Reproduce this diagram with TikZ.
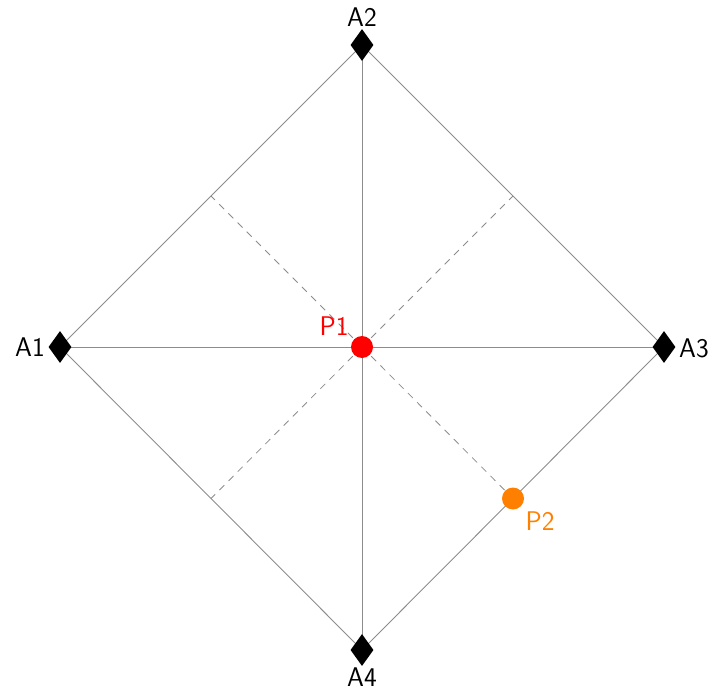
\documentclass[tikz,border=0pt]{standalone}
\usetikzlibrary{shapes.geometric,calc}
\tikzset{
  edge/.style={draw=black!45, line width=0.9pt},
  dashedge/.style={draw=black!45, line width=0.8pt, dash pattern=on 7pt off 6pt},
  vert/.style={diamond, fill=black, inner sep=0pt, minimum width=23pt, minimum height=32pt, aspect=0.72},
  pt/.style={circle, inner sep=0pt, minimum size=22pt},
  lbl/.style={font=\fontsize{27}{31}\selectfont\sffamily, inner sep=0pt}
}
\begin{document}
\begin{tikzpicture}[x=1pt,y=-1pt]
\useasboundingbox (0,0) rectangle (712,690);
\coordinate (a1) at (60,347);
\coordinate (a2) at (362,45);
\coordinate (a3) at (664,347);
\coordinate (a4) at (362,650);
\coordinate (c) at (362,347);
\coordinate (m12) at ($(a1)!0.5!(a2)$);
\coordinate (m23) at ($(a2)!0.5!(a3)$);
\coordinate (m34) at ($(a3)!0.5!(a4)$);
\coordinate (m41) at ($(a4)!0.5!(a1)$);
\draw[dashedge] (c) -- (m12);
\draw[dashedge] (c) -- (m23);
\draw[dashedge] (c) -- (m34);
\draw[dashedge] (c) -- (m41);
\draw[edge] (a1) -- (a2) -- (a3) -- (a4) -- cycle;
\draw[edge] (a1) -- (a3);
\draw[edge] (a2) -- (a4);
\node[vert] (A1) at (a1) {};
\node[vert] (A2) at (a2) {};
\node[vert] (A3) at (a3) {};
\node[vert] (A4) at (a4) {};
\node[pt, fill=red] (P1) at (c) {};
\node[pt, fill={rgb,255:red,255;green,128;blue,0}] (P2) at (m34) {};
\node[lbl, anchor=east] (lA1) at (45,347) {A1};
\node[lbl] (lA2) at (362,17) {A2};
\node[lbl, anchor=west] (lA3) at (679,348) {A3};
\node[lbl, anchor=base] (lA4) at (362,686) {A4};
\node[lbl, text=red] (lP1) at (334,326) {P1};
\node[lbl, text={rgb,255:red,255;green,128;blue,0}] (lP2) at (540,521) {P2};
\end{tikzpicture}
\end{document}
